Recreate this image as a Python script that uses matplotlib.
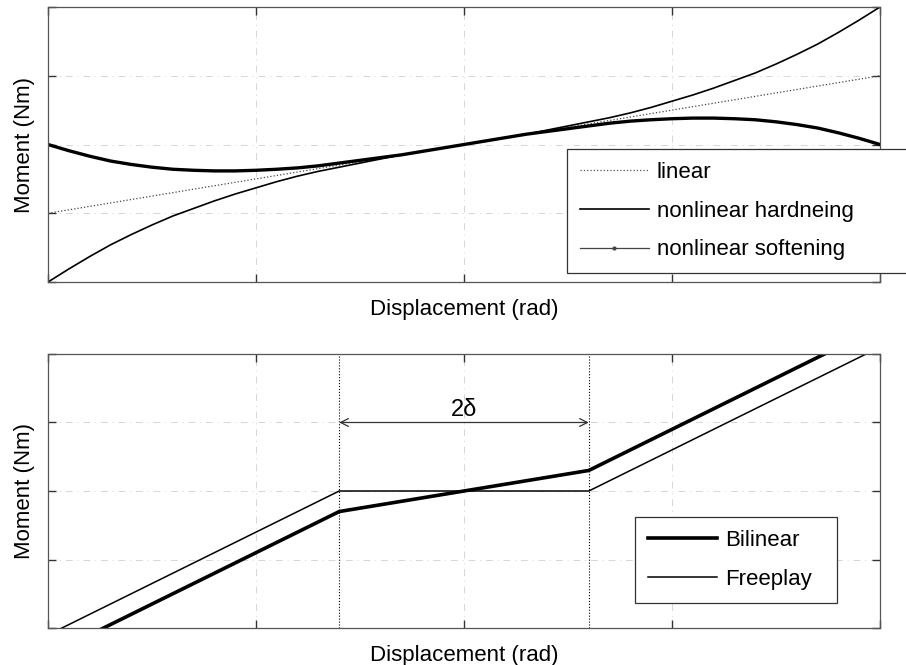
import matplotlib
matplotlib.use("Agg")
import matplotlib.pyplot as plt
from matplotlib.lines import Line2D

plt.rcParams['font.family'] = ['Liberation Sans', 'DejaVu Sans']
plt.rcParams['font.size'] = 16

# top panel: moment vs displacement
x_top = [-1.0, -0.95, -0.9, -0.85, -0.8, -0.75, -0.7, -0.65, -0.6, -0.55, -0.5,
         -0.45, -0.4, -0.35, -0.3, -0.25, -0.2, -0.15, -0.1, -0.05, 0.0,
         0.05, 0.1, 0.15, 0.2, 0.25, 0.3, 0.35, 0.4, 0.45, 0.5,
         0.55, 0.6, 0.65, 0.7, 0.75, 0.8, 0.85, 0.9, 0.95, 1.0]
linear = [-1.0, -0.95, -0.9, -0.85, -0.8, -0.75, -0.7, -0.65, -0.6, -0.55, -0.5,
          -0.45, -0.4, -0.35, -0.3, -0.25, -0.2, -0.15, -0.1, -0.05, 0.0,
          0.05, 0.1, 0.15, 0.2, 0.25, 0.3, 0.35, 0.4, 0.45, 0.5,
          0.55, 0.6, 0.65, 0.7, 0.75, 0.8, 0.85, 0.9, 0.95, 1.0]
hardening = [-2.0, -1.81, -1.63, -1.46, -1.31, -1.17, -1.04, -0.93, -0.82, -0.72, -0.63,
             -0.54, -0.46, -0.39, -0.33, -0.27, -0.21, -0.15, -0.10, -0.05, 0.0,
             0.05, 0.10, 0.15, 0.21, 0.27, 0.33, 0.39, 0.46, 0.54, 0.63,
             0.72, 0.82, 0.93, 1.04, 1.17, 1.31, 1.46, 1.63, 1.81, 2.0]
softening = [0.0, -0.09, -0.17, -0.24, -0.29, -0.33, -0.36, -0.375, -0.384, -0.384, -0.375,
             -0.36, -0.34, -0.31, -0.27, -0.23, -0.19, -0.15, -0.10, -0.05, 0.0,
             0.05, 0.10, 0.15, 0.19, 0.23, 0.27, 0.31, 0.34, 0.36, 0.375,
             0.384, 0.384, 0.375, 0.36, 0.33, 0.29, 0.24, 0.17, 0.09, 0.0]

# bottom panel: bilinear / freeplay stiffness
delta = 0.3
x_bot = [-1.0, -0.3, 0.3, 1.0]
bilinear = [-2.4, -0.3, 0.3, 2.4]
freeplay = [-2.1, 0.0, 0.0, 2.1]

x_ticks = [-1, -0.5, 0, 0.5, 1]
y_ticks = [-2, -1, 0, 1, 2]

grid_style = dict(color='#d6d6d6', linestyle=(0, (7, 5, 1, 5)), linewidth=0.7)


def style_axes(ax):
    ax.set_xlim(-1, 1)
    ax.set_ylim(-2, 2)
    ax.set_xticks(x_ticks)
    ax.set_yticks(y_ticks)
    ax.set_xticklabels([])
    ax.set_yticklabels([])
    ax.tick_params(direction='in', length=6, width=1.0, color='#333333',
                   top=True, right=True)
    ax.grid(True, **grid_style)
    for s in ax.spines.values():
        s.set_color('#555555')
        s.set_linewidth(0.9)
    ax.set_xlabel('Displacement (rad)', labelpad=9)
    ax.set_ylabel('Moment (Nm)', labelpad=6)


fig = plt.figure(figsize=(9.06, 6.65), dpi=100)
ax1 = fig.add_axes([0.053, 0.5759, 0.9183, 0.4136])
ax2 = fig.add_axes([0.053, 0.0556, 0.9183, 0.4121])

ax1.plot(x_top, linear, color='#444444', linestyle=':', linewidth=0.9)
ax1.plot(x_top, hardening, color='black', linewidth=1.2)
ax1.plot(x_top, softening, color='black', linewidth=2.4)
style_axes(ax1)

handles1 = [
    Line2D([], [], color='#555555', linestyle=':', linewidth=0.9),
    Line2D([], [], color='black', linewidth=1.2),
    Line2D([], [], color='#444444', linewidth=0.9, marker='.', markersize=4),
]
leg1 = fig.legend(handles1, ['linear', 'nonlinear hardneing', 'nonlinear softening'],
                  loc='upper left', bbox_to_anchor=(0.6258, 0.5, 0.3786, 0.2759),
                  bbox_transform=fig.transFigure, mode='expand', borderaxespad=0,
                  numpoints=1, handlelength=3.1, handletextpad=0.36,
                  labelspacing=0.8, borderpad=0.58, fancybox=False,
                  framealpha=1, edgecolor='#333333')
leg1.get_frame().set_linewidth(0.9)

ax2.plot(x_bot, bilinear, color='black', linewidth=2.6)
ax2.plot(x_bot, freeplay, color='black', linewidth=1.1)
ax2.axvline(-delta, color='black', linestyle=':', linewidth=0.8)
ax2.axvline(delta, color='black', linestyle=':', linewidth=0.8)
ax2.annotate('', xy=(-delta, 1), xytext=(delta, 1),
             arrowprops=dict(arrowstyle='<->', color='#333333', lw=0.9,
                             shrinkA=0, shrinkB=0, mutation_scale=14))
ax2.text(0, 1.18, '2δ', ha='center', va='center', fontsize=17)
style_axes(ax2)

handles2 = [
    Line2D([], [], color='black', linewidth=2.6),
    Line2D([], [], color='black', linewidth=1.1),
]
leg2 = fig.legend(handles2, ['Bilinear', 'Freeplay'],
                  loc='upper left', bbox_to_anchor=(0.7009, 0.05, 0.223, 0.1726),
                  bbox_transform=fig.transFigure, mode='expand', borderaxespad=0,
                  handlelength=3.1, handletextpad=0.36, labelspacing=0.8,
                  borderpad=0.58, fancybox=False, framealpha=1,
                  edgecolor='#333333')
leg2.get_frame().set_linewidth(0.9)

fig.savefig('out.png', dpi=100)
